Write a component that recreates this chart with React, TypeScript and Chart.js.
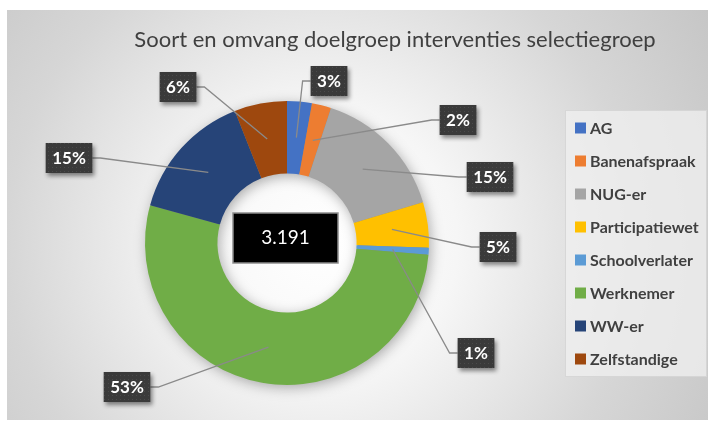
import React, { useEffect, useRef } from 'react';
import { Chart, registerables } from 'chart.js';

Chart.register(...registerables);

// ---- data ----
const categories = [
  'AG',
  'Banenafspraak',
  'NUG-er',
  'Participatiewet',
  'Schoolverlater',
  'Werknemer',
  'WW-er',
  'Zelfstandige',
];
const counts = [90, 70, 490, 165, 25, 1690, 470, 191];
const colors = ['#4472C4', '#ED7D31', '#A5A5A5', '#FFC000', '#5B9BD5', '#70AD47', '#264478', '#9E480E'];
const chartTitle = 'Soort en omvang doelgroep interventies selectiegroep';

// ---- label box centre offsets from the doughnut centre (layout only) ----
const labelBoxOffsets: [number, number][] = [
  [42, -162],
  [171, -123],
  [203, -66],
  [211, 4],
  [189, 110],
  [-160, 144],
  [-218, -85],
  [-109, -156],
];

function formatThousands(n: number): string {
  return String(n).replace(/\B(?=(\d{3})+(?!\d))/g, '.');
}

function makePattern(ctx: CanvasRenderingContext2D): CanvasPattern | string {
  const c = document.createElement('canvas');
  c.width = 4;
  c.height = 4;
  const p = c.getContext('2d');
  if (!p) return '#3b3b3b';
  p.fillStyle = '#3a3a3a';
  p.fillRect(0, 0, 4, 4);
  p.fillStyle = '#4a4a4a';
  p.fillRect(1, 1, 1, 1);
  return ctx.createPattern(c, 'repeat') || '#3b3b3b';
}

export default function App() {
  const ref = useRef<HTMLCanvasElement>(null);

  useEffect(() => {
    if (!ref.current) return;
    const total = counts.reduce((a, b) => a + b, 0);

    const decor = {
      id: 'decor',
      beforeDatasetsDraw(chart: any) {
        const ctx: CanvasRenderingContext2D = chart.ctx;
        const arc = chart.getDatasetMeta(0).data[0];
        const { x, y, outerRadius, innerRadius } = arc.getProps(['x', 'y', 'outerRadius', 'innerRadius'], true);
        ctx.save();
        ctx.shadowColor = 'rgba(0,0,0,0.35)';
        ctx.shadowBlur = 14;
        ctx.shadowOffsetX = 2;
        ctx.shadowOffsetY = 3;
        ctx.beginPath();
        ctx.arc(x, y, outerRadius - 1, 0, Math.PI * 2);
        ctx.arc(x, y, innerRadius + 1, 0, Math.PI * 2, true);
        ctx.fillStyle = '#888888';
        ctx.fill('evenodd');
        ctx.restore();
      },
      afterDatasetsDraw(chart: any) {
        const ctx: CanvasRenderingContext2D = chart.ctx;
        const meta = chart.getDatasetMeta(0);
        const first = meta.data[0];
        const { x: cx, y: cy } = first.getProps(['x', 'y'], true);

        // centre total box
        ctx.save();
        ctx.fillStyle = '#000000';
        ctx.fillRect(cx - 54, cy - 30, 105, 50);
        ctx.strokeStyle = '#8c8c8c';
        ctx.lineWidth = 1.5;
        ctx.strokeRect(cx - 54, cy - 30, 105, 50);
        ctx.fillStyle = '#ffffff';
        ctx.font = '19px Lato';
        ctx.textAlign = 'center';
        ctx.textBaseline = 'middle';
        ctx.fillText(formatThousands(total), cx - 1.5, cy - 5);
        ctx.restore();

        // data labels
        ctx.save();
        ctx.font = 'bold 17px Lato';
        const boxes = meta.data.map((arc: any, i: number) => {
          const text = Math.round((counts[i] / total) * 100) + '%';
          const w = ctx.measureText(text).width + 13;
          const h = 30;
          const bx = cx + labelBoxOffsets[i][0];
          const by = cy + labelBoxOffsets[i][1];
          const anchor = arc.tooltipPosition(true);
          return { text, w, h, bx, by, anchor };
        });
        ctx.strokeStyle = '#8a8a8a';
        ctx.lineWidth = 1.3;
        boxes.forEach((b: any) => {
          const left = b.bx - b.w / 2;
          const right = b.bx + b.w / 2;
          let edge: number;
          let elbow: number;
          if (b.anchor.x < left) {
            edge = left;
            elbow = left - 8;
          } else {
            edge = right;
            elbow = right + 8;
          }
          ctx.beginPath();
          ctx.moveTo(b.anchor.x, b.anchor.y);
          ctx.lineTo(elbow, b.by);
          ctx.lineTo(edge, b.by);
          ctx.stroke();
        });
        const pat = makePattern(ctx);
        boxes.forEach((b: any) => {
          ctx.save();
          ctx.shadowColor = 'rgba(0,0,0,0.45)';
          ctx.shadowBlur = 4;
          ctx.shadowOffsetX = 2;
          ctx.shadowOffsetY = 3;
          ctx.fillStyle = pat as any;
          ctx.fillRect(b.bx - b.w / 2, b.by - b.h / 2, b.w, b.h);
          ctx.restore();
          ctx.fillStyle = '#ffffff';
          ctx.textAlign = 'center';
          ctx.textBaseline = 'middle';
          ctx.fillText(b.text, b.bx, b.by + 1);
        });
        ctx.restore();
      },
      afterDraw(chart: any) {
        const ctx: CanvasRenderingContext2D = chart.ctx;
        ctx.save();
        // title
        ctx.fillStyle = '#404040';
        ctx.font = '22px Lato';
        ctx.textAlign = 'center';
        ctx.textBaseline = 'middle';
        ctx.fillText(chartTitle, 388, 30);

        // legend
        ctx.fillStyle = 'rgba(240,240,240,0.75)';
        ctx.fillRect(558, 100, 142, 267);
        ctx.strokeStyle = 'rgba(200,200,200,0.6)';
        ctx.lineWidth = 1;
        ctx.strokeRect(558.5, 100.5, 141, 266);
        ctx.font = 'bold 16px Lato';
        ctx.textAlign = 'left';
        categories.forEach((name, i) => {
          const yy = 118 + i * 33;
          ctx.fillStyle = colors[i];
          ctx.fillRect(568, yy - 5.5, 11, 11);
          ctx.fillStyle = '#404040';
          ctx.fillText(name, 583, yy + 1);
        });
        ctx.restore();
      },
    };

    const chart = new Chart(ref.current, {
      type: 'doughnut',
      data: {
        labels: categories,
        datasets: [
          {
            data: counts,
            backgroundColor: colors,
            borderWidth: 0,
          },
        ],
      },
      options: {
        responsive: true,
        maintainAspectRatio: false,
        animation: false,
        events: [],
        cutout: '49%',
        layout: { padding: { left: 138, top: 91, right: 279, bottom: 35 } },
        plugins: {
          legend: { display: false },
          tooltip: { enabled: false },
          title: { display: false },
        },
      },
      plugins: [decor],
    });
    return () => chart.destroy();
  }, []);

  return (
    <div
      style={{
        position: 'absolute',
        left: 7,
        top: 10,
        width: 701,
        height: 410,
        background: 'radial-gradient(circle at 45% 57%, #ffffff 0%, #f6f6f6 30%, #d6d6d6 70%, #c6c6c6 100%)',
      }}
    >
      <canvas ref={ref} style={{ display: 'block', width: '100%', height: '100%' }} />
    </div>
  );
}
